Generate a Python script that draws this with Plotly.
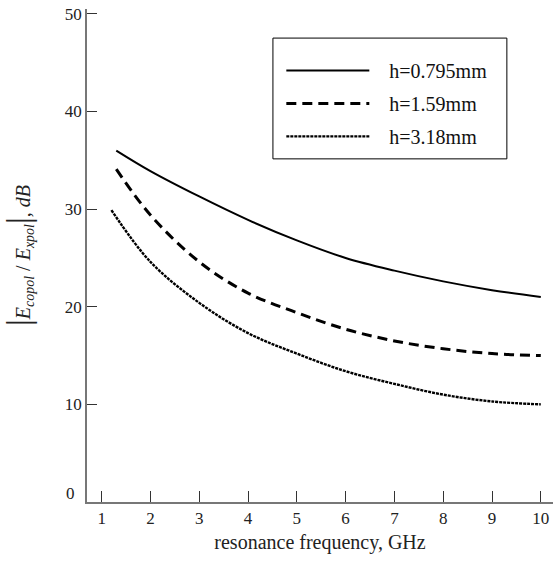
import plotly.graph_objects as go

freq_a = [1.3, 2, 3, 4, 5, 6, 7, 8, 9, 10]
ratio_0795 = [36.0, 33.9, 31.3, 28.9, 26.8, 25.0, 23.7, 22.6, 21.7, 21.0]

freq_b = [1.3, 2, 3, 4, 5, 6, 7, 8, 9, 10]
ratio_159 = [34.1, 29.4, 24.6, 21.4, 19.4, 17.7, 16.5, 15.7, 15.2, 15.0]

freq_c = [1.2, 2, 3, 4, 5, 6, 7, 8, 9, 10]
ratio_318 = [29.9, 24.6, 20.4, 17.3, 15.2, 13.4, 12.1, 11.0, 10.3, 10.0]

names = ["h=0.795mm", "h=1.59mm", "h=3.18mm"]
x_ticks = [1, 2, 3, 4, 5, 6, 7, 8, 9, 10]
y_ticks = [10, 20, 30, 40, 50]
y_zero_label = "0"

FONT = "Liberation Serif"
PAD = "&nbsp;&nbsp;&nbsp;"

fig = go.Figure()
fig.add_trace(go.Scatter(x=freq_a, y=ratio_0795, mode="lines", name=PAD + names[0],
                         legendgroup="a",
                         line=dict(color="black", width=2, shape="spline")))
fig.add_trace(go.Scatter(x=freq_b, y=ratio_159, mode="lines", name=PAD + names[1],
                         legendgroup="b",
                         line=dict(color="black", width=3, dash="10px,6px", shape="spline")))
fig.add_trace(go.Scatter(x=freq_c, y=ratio_318, mode="lines", name=PAD + names[2],
                         legendgroup="c",
                         line=dict(color="black", width=2.4, dash="3px,1px", shape="spline")))

fig.update_layout(
    width=557, height=562,
    margin=dict(l=87, r=4, t=9, b=60),
    paper_bgcolor="white", plot_bgcolor="white",
    font=dict(family=FONT, color="#222", size=17),
    showlegend=True,
    legend=dict(
        x=0.417, y=0.915, xanchor="left", yanchor="top",
        borderwidth=0, bgcolor="rgba(0,0,0,0)",
        font=dict(family=FONT, size=20, color="#111"),
        itemwidth=83, tracegroupgap=4,
    ),
    xaxis=dict(
        range=[0.7, 10.25], tickvals=x_ticks, ticks="inside", ticklen=11,
        tickcolor="#333", showline=True, linecolor="#777", linewidth=1.5,
        showgrid=False, zeroline=False, automargin=False,
        tickfont=dict(family=FONT, size=17, color="#222"),
        title=dict(text="resonance frequency, GHz", font=dict(family=FONT, size=20, color="#222"),
                   standoff=8),
    ),
    yaxis=dict(
        range=[0, 50.5], tickvals=y_ticks,
        ticks="inside", ticklen=10, ticklabeloverflow="allow",
        tickcolor="#333", showline=True, linecolor="#777", linewidth=1.5,
        showgrid=False, zeroline=False, automargin=False,
        tickfont=dict(family=FONT, size=17, color="#222"),
        title=dict(
            text="<span style='font-size:34px'>|</span><i>E</i><sub><i>copol</i></sub> / <i>E</i><sub><i>xpol</i></sub><span style='font-size:34px'>|</span>, <i>dB</i>",
            font=dict(family=FONT, size=20, color="#222"), standoff=34),
    ),
    shapes=[dict(type="rect", xref="paper", yref="paper",
                 x0=0.399, x1=0.901, y0=0.696, y1=0.941,
                 line=dict(color="black", width=1), fillcolor="rgba(0,0,0,0)", layer="above")],
)

fig.add_annotation(x=0, y=0, xref="paper", yref="y", text=y_zero_label, showarrow=False,
                   xanchor="right", yanchor="middle", xshift=-10, yshift=9,
                   font=dict(family=FONT, size=17, color="#222"))

fig.write_html("out.html", config={"displayModeBar": False},
               post_script="document.body.style.margin='0';document.body.style.overflow='hidden';")
